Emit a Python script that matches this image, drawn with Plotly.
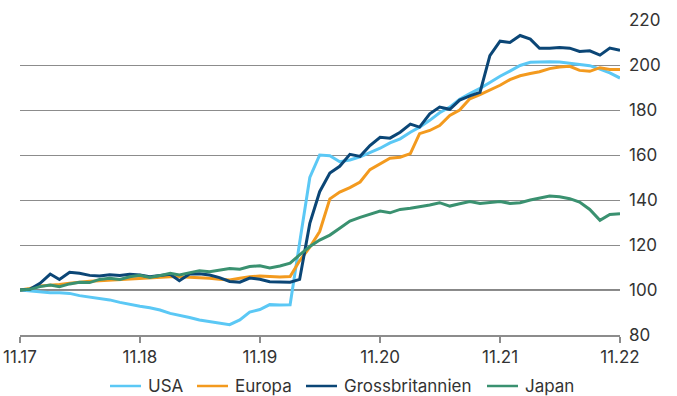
import pandas as pd
import plotly.graph_objects as go

months = pd.date_range("2017-11-01", periods=61, freq="MS")

usa = [100, 99.6, 99.0, 98.8, 98.8, 98.5, 97.5, 96.8, 96.2, 95.6,
       94.5, 93.5, 92.8, 92.1, 91.1, 89.6, 88.9, 87.8, 86.7, 85.9,
       85.2, 84.6, 86.7, 90.2, 91.3, 93.5, 93.3, 93.4, 121, 150,
       160, 159.7, 157, 157.8, 159.2, 161, 163, 165.4, 167.2, 170.1,
       172.4, 175.4, 178.8, 181.3, 184.8, 187.3, 189.6, 192.2, 195, 197.3,
       199.8, 201.2, 201.5, 201.5, 201.3, 200.8, 200.3, 199.7, 198.2, 196.5,
       194.2]

europa = [100, 100.7, 101.8, 102.0, 102.5, 103.0, 103.6, 103.9, 104.1, 104.4,
          104.4, 104.9, 105.2, 105.6, 105.9, 105.9, 105.9, 105.7, 105.6, 105.2,
          104.8, 104.4, 105.2, 105.9, 106.2, 106.0, 105.8, 106.0, 113, 119,
          126, 140.5, 143.5, 145.5, 148, 153.5, 156, 158.6, 159, 160.6,
          169.5, 170.9, 173.1, 177.6, 180, 185, 186.8, 188.8, 191, 193.5,
          195.2, 196.2, 197, 198.4, 199.1, 199.4, 197.6, 197.2, 198.8, 198,
          198]

gb = [100, 100.3, 103, 107.1, 104.7, 107.9, 107.4, 106.5, 106.2, 106.8,
      106.5, 107, 106.7, 105.9, 106.4, 107, 104.1, 107.1, 107.2, 106.7,
      105.5, 103.8, 103.5, 105.3, 104.8, 103.7, 103.6, 103.5, 104.7, 129.6,
      143.7, 152, 155, 160.3, 159.4, 164.2, 167.9, 167.5, 170.1, 173.7,
      172.4, 178.3, 181.3, 180.3, 184.4, 186.3, 187.8, 204.2, 210.6, 210,
      213.1, 211.5, 207.4, 207.4, 207.8, 207.5, 206, 206.3, 204.4, 207.5,
      206.5]

japan = [100, 100.3, 101.5, 102.2, 101.5, 102.7, 103.4, 103.3, 104.7, 105.2,
         104.7, 105.9, 106.5, 105.6, 106.4, 107.4, 106.7, 107.7, 108.6, 108.1,
         108.9, 109.6, 109.2, 110.4, 110.8, 109.8, 110.7, 111.9, 115.6, 119.3,
         122.2, 124.4, 127.4, 130.6, 132.3, 133.6, 135.1, 134.3, 135.8, 136.3,
         136.9, 137.8, 138.8, 137.3, 138.3, 139.3, 138.5, 139, 139.3, 138.5,
         138.8, 140, 141, 141.8, 141.4, 140.6, 139.1, 135.8, 131, 133.6,
         133.9]

x_tick_vals = pd.date_range("2017-11-01", periods=6, freq="12MS")
x_tick_text = ["11.17", "11.18", "11.19", "11.20", "11.21", "11.22"]
y_tick_vals = [80, 100, 120, 140, 160, 180, 200, 220]

series_names = ["USA", "Europa", "Grossbritannien", "Japan"]
series_values = [usa, europa, gb, japan]
series_colors = ["#5BC8F5", "#F39A1E", "#0B4676", "#3A9170"]

# legend layout (pixel positions of each legend swatch start, and row position)
legend_px = [110, 197, 306, 487]
legend_row_py = 386

W, H = 677, 396
ML, MR, MT, MB = 20, 57, 20, 61
plot_w = W - ML - MR
plot_h = H - MT - MB


def px_to_paper_x(px):
    return (px - ML) / plot_w


def py_to_paper_y(py):
    return (H - MB - py) / plot_h


fig = go.Figure()
for name, vals, color in zip(series_names, series_values, series_colors):
    fig.add_trace(go.Scatter(x=months, y=vals, name=name, mode="lines",
                             line=dict(color=color, width=3), showlegend=False))

fig.add_hline(y=100, line=dict(color="#111111", width=1.2), layer="below")

ly = py_to_paper_y(legend_row_py)
for name, color, lx in zip(series_names, series_colors, legend_px):
    fig.add_shape(type="line", xref="paper", yref="paper",
                  x0=px_to_paper_x(lx), x1=px_to_paper_x(lx + 31), y0=ly, y1=ly,
                  line=dict(color=color, width=2.5))
    fig.add_annotation(xref="paper", yref="paper", x=px_to_paper_x(lx + 36), y=ly,
                       xanchor="left", yanchor="middle", showarrow=False, text=name,
                       font=dict(family="Inter", size=17, color="#333333"))

fig.update_layout(
    width=W, height=H,
    margin=dict(l=ML, r=MR, t=MT, b=MB, autoexpand=False),
    paper_bgcolor="white", plot_bgcolor="white",
    font=dict(family="Inter", size=17, color="#333333"),
    showlegend=False,
    xaxis=dict(range=[months[0], months[-1]], tickvals=list(x_tick_vals), ticktext=x_tick_text,
               showgrid=False, showline=True, linecolor="#8c8c8c", linewidth=1.5,
               ticks="outside", ticklen=6, tickcolor="#8c8c8c", tickwidth=1.5,
               zeroline=False, tickfont=dict(size=17, color="#333333")),
    yaxis=dict(range=[80, 220], tickvals=y_tick_vals, side="right",
               showgrid=True, gridcolor="#8c8c8c", gridwidth=1.3,
               showline=False, zeroline=False, ticks="",
               ticklabelstandoff=8, tickfont=dict(size=17, color="#333333")),
)

fig.write_html("out.html")
